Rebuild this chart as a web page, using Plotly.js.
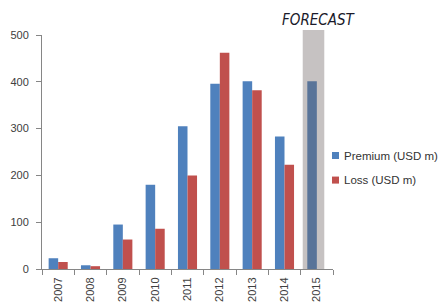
<!DOCTYPE html>
<html>
<head>
<meta charset="utf-8">
<script src="https://cdn.plot.ly/plotly-3.0.1.min.js"></script>
<style>html,body{margin:0;padding:0;background:#fff;}#chart{width:439px;height:308px;}</style>
</head>
<body>
<div id="chart"></div>
<script>
var years = ['2007','2008','2009','2010','2011','2012','2013','2014','2015'];
var premium = [23, 8, 95, 180, 305, 396, 401, 283, 401];
var loss = [15, 6, 63, 86, 200, 462, 382, 223, null];
var seriesNames = ['Premium (USD m)', 'Loss (USD m)'];
var forecastLabel = 'FORECAST';

var blue = '#4f81bd', red = '#c0504d';
var tickFont = {family: 'Liberation Sans, Arial, sans-serif', size: 11, color: '#404040'};

var traces = [
  {type: 'bar', x: years, y: premium, name: seriesNames[0], marker: {color: blue}},
  {type: 'bar', x: years, y: loss, name: seriesNames[1], marker: {color: red}}
];

// plot area in pixels: left 42, right 333, top 35, bottom 269
var layout = {
  width: 439, height: 308,
  margin: {l: 42, r: 106, t: 35, b: 39, pad: 0},
  paper_bgcolor: '#ffffff', plot_bgcolor: '#ffffff',
  showlegend: false,
  barmode: 'group', bargap: 0.41, bargroupgap: 0,
  xaxis: {
    type: 'category', showgrid: false, zeroline: false,
    showline: true, linecolor: '#868686', linewidth: 1,
    ticks: 'outside', tickson: 'boundaries', ticklen: 5, tickcolor: '#868686',
    tickangle: -90, tickfont: tickFont, ticklabelstandoff: 3
  },
  yaxis: {
    range: [0, 500], dtick: 100, showgrid: false, zeroline: false,
    showline: true, linecolor: '#868686', linewidth: 1,
    ticks: 'outside', ticklen: 5, tickcolor: '#868686',
    tickfont: tickFont, ticklabelstandoff: 5
  },
  shapes: [
    {type: 'rect', layer: 'above', xref: 'paper', yref: 'paper',
     x0: 0.896, x1: 0.970, y0: 0, y1: 1.021,
     fillcolor: 'rgba(105,95,95,0.38)', line: {width: 0}},
    {type: 'rect', xref: 'paper', yref: 'paper',
     x0: 0.9966, x1: 1.0206, y0: 0.470, y1: 0.500,
     fillcolor: blue, line: {width: 0}},
    {type: 'rect', xref: 'paper', yref: 'paper',
     x0: 0.9966, x1: 1.0206, y0: 0.365, y1: 0.395,
     fillcolor: red, line: {width: 0}}
  ],
  annotations: [
    {text: forecastLabel, xref: 'paper', yref: 'paper', x: 0.952, y: 1.062,
     xanchor: 'center', yanchor: 'middle', showarrow: false,
     font: {family: 'DejaVu Sans Condensed, Liberation Sans, Arial, sans-serif', size: 15, color: '#1a1a2a', style: 'italic'}},
    {text: seriesNames[0], xref: 'paper', yref: 'paper', x: 1.031, y: 0.485,
     xanchor: 'left', yanchor: 'middle', showarrow: false,
     font: {family: 'Liberation Sans, Arial, sans-serif', size: 11.5, color: '#333333'}},
    {text: seriesNames[1], xref: 'paper', yref: 'paper', x: 1.031, y: 0.380,
     xanchor: 'left', yanchor: 'middle', showarrow: false,
     font: {family: 'Liberation Sans, Arial, sans-serif', size: 11.5, color: '#333333'}}
  ]
};

Plotly.newPlot('chart', traces, layout, {displayModeBar: false, staticPlot: true});
</script>
</body>
</html>
